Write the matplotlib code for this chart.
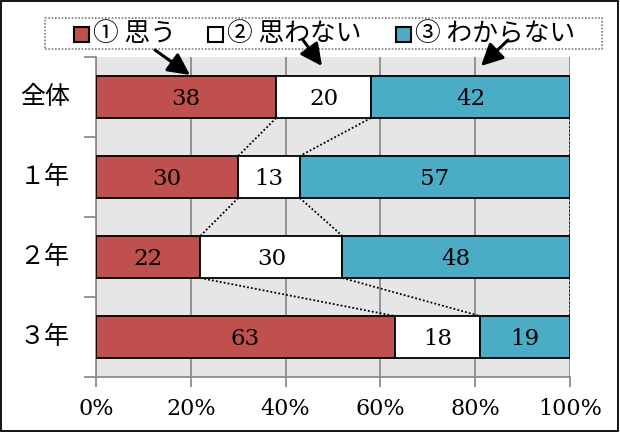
import matplotlib
matplotlib.use("Agg")
import matplotlib.pyplot as plt
from matplotlib.patches import Rectangle, FancyArrowPatch
import numpy as np

plt.rcParams['font.family'] = ['DejaVu Serif', 'Noto Sans CJK JP']

categories = ['全体', '１年', '２年', '３年']
series_names = ['① 思う', '② 思わない', '③ わからない']
think = [38, 30, 22, 63]
not_think = [20, 13, 30, 18]
unknown = [42, 57, 48, 19]
x_ticks = [0, 20, 40, 60, 80, 100]
x_tick_labels = ['0%', '20%', '40%', '60%', '80%', '100%']

colors = ['#c0504d', '#ffffff', '#4bacc6']
W, H = 620, 432
fig = plt.figure(figsize=(W / 100, H / 100), dpi=100)


def fx(px):
    return px / W


def fy(py):
    return 1 - py / H


# outer frame
fig.patches.append(Rectangle((0.002, 0.003), 0.995, 0.994, transform=fig.transFigure,
                             fill=False, edgecolor='black', linewidth=1.3))

ax = fig.add_axes([fx(96), fy(377), (570 - 96) / W, (377 - 57) / H])
ax.set_facecolor('#e6e6e6')
ax.set_xlim(0, 100)
ax.set_ylim(len(categories) - 0.5, -0.5)

series = [think, not_think, unknown]
ypos = np.arange(len(categories))
bar_h = 0.525
left = np.zeros(len(categories))
bounds = []
for vals, col in zip(series, colors):
    v = np.array(vals, dtype=float)
    ax.barh(ypos, v, left=left, height=bar_h, color=col, edgecolor='black',
            linewidth=1.3, zorder=3)
    for y, l, w in zip(ypos, left, v):
        ax.text(l + w / 2, y + 0.02, f'{int(w)}', ha='center', va='center',
                fontsize=16.5, zorder=4)
    left = left + v
    bounds.append(left.copy())

# series lines between neighbouring bars
for b in bounds:
    for i in range(len(categories) - 1):
        ax.plot([b[i], b[i + 1]], [ypos[i] + bar_h / 2, ypos[i + 1] - bar_h / 2],
                color='black', linestyle=(0, (1, 1.2)), linewidth=1.3, zorder=2)

# grid and axes
for xv in x_ticks:
    ax.axvline(xv, color='#8c8c8c', linewidth=1.3, zorder=1)
for s in ['top', 'right']:
    ax.spines[s].set_visible(False)
for s in ['left', 'bottom']:
    ax.spines[s].set_color('#8c8c8c')
    ax.spines[s].set_linewidth(1.3)

ax.set_xticks(x_ticks)
ax.set_xticklabels(x_tick_labels, fontsize=16)
ax.tick_params(axis='x', length=7, width=1.3, color='#8c8c8c', pad=8)
ax.set_yticks(np.arange(len(categories) + 1) - 0.5)
ax.set_yticklabels([])
ax.tick_params(axis='y', length=9, width=1.3, color='#8c8c8c')
for y, c in zip(ypos, categories):
    ax.annotate(c, xy=(0, y), xycoords='data', xytext=(-19, 0),
                textcoords='offset points', ha='right', va='center',
                fontsize=18, annotation_clip=False)

# legend box
fig.patches.append(Rectangle((fx(45), fy(49)), (602 - 45) / W, 31 / H,
                             transform=fig.transFigure, fill=False,
                             edgecolor='#7f7f7f', linewidth=1.2,
                             linestyle=(0, (1, 1))))
leg_x = [74, 208, 396]
for lx, name, col in zip(leg_x, series_names, colors):
    fig.patches.append(Rectangle((fx(lx), fy(42)), 15 / W, 15 / H,
                                 transform=fig.transFigure, facecolor=col,
                                 edgecolor='black', linewidth=1.5))
    fig.text(fx(lx + 19), fy(34), name, ha='left', va='center', fontsize=18.5,
             family=['Noto Sans CJK JP', 'DejaVu Sans'])

# arrows from legend entries to the bars
arrows = [((155, 50), (190, 75)), ((303, 40), (322, 66)), ((508, 40), (481, 66))]
for (x0, y0), (x1, y1) in arrows:
    fig.patches.append(FancyArrowPatch((fx(x0), fy(y0)), (fx(x1), fy(y1)),
                                       transform=fig.transFigure,
                                       arrowstyle='-|>,head_length=1.1,head_width=0.55',
                                       mutation_scale=12, color='black',
                                       linewidth=2.2, shrinkA=0, shrinkB=0))

fig.savefig('out.png', dpi=100)
